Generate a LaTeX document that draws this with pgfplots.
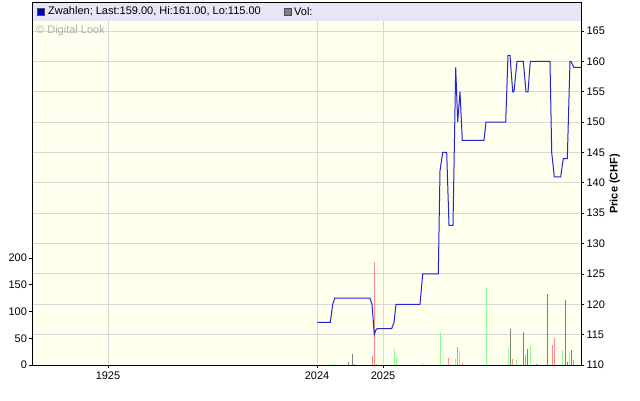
\documentclass[border=0pt]{standalone}
\usepackage{fontspec}
\setmainfont{Liberation Sans}
\usepackage{pgfplots}
\pgfplotsset{compat=1.18}
\definecolor{bgc}{RGB}{255,255,238}
\definecolor{legc}{RGB}{230,230,246}
\definecolor{gridc}{RGB}{216,216,216}
\definecolor{linec}{RGB}{35,35,215}
\definecolor{volg}{RGB}{140,255,140}
\definecolor{volr}{RGB}{255,140,140}
\definecolor{volk}{RGB}{128,128,128}
\definecolor{wm}{RGB}{175,175,175}
\begin{document}
\begin{tikzpicture}
\path[use as bounding box, fill=white] (0pt,0pt) rectangle (640pt,401pt);
\pgfplotsset{every axis/.append style={scale only axis, width=548.5pt, height=362.5pt,
  at={(32.5pt,36pt)}, anchor=south west, xmin=32.5, xmax=581,
  font=\fontsize{11}{13}\selectfont, /pgf/number format/assume math mode=true,
  tick align=outside, major tick length=3pt, tick style={black, line width=0.8pt}}}
% axis 1: price frame, grid, background
\begin{axis}[ymin=110, ymax=169.7,
  axis background/.style={fill=bgc},
  axis line style={black, line width=0.8pt},
  xtick={108,317,383}, xticklabels={1925,2024,2025}, xtick pos=lower,
  ytick={110,115,...,165}, ytick pos=right, yticklabel pos=right,
  yticklabel style={xshift=-1pt},
  grid=major, major grid style={gridc, line width=0.9pt},
  ylabel={\bfseries Price (CHF)}, ylabel style={yshift=2pt}]
\addplot[draw=none] coordinates {(100,120)};
\end{axis}
% axis 2: volume
\begin{axis}[ymin=0, ymax=677.6, axis x line=none, axis y line*=left,
  axis line style={black, line width=0.8pt},
  ytick={0,50,...,200}, yticklabel style={xshift=1pt}]
\addplot[ycomb, volg, line width=1pt] coordinates {
(332.7,2) (334,2) (376,2) (394.3,30) (396.3,14) (422.7,4) (440.3,62) (442.3,2)
(455.3,11) (459.3,26) (486.3,144) (508.3,32) (516.3,9) (530.3,35) (562.3,28) (569.3,24)};
\addplot[ycomb, volk, line width=1pt] coordinates {
(348.3,5) (352.3,20) (354.3,2) (510.3,67) (523.3,62) (527.3,30) (536.3,2)
(547.3,133) (565.3,121) (567.3,5) (571.3,28)};
\addplot[ycomb, volr, line width=1pt] coordinates {
(372.3,17) (374.3,193) (448.3,13) (457.3,34) (462.3,3) (512.3,11) (525.3,19)
(552.3,37) (554.3,50) (573.3,9)};
\end{axis}
% axis 3: price line, legend band
\begin{axis}[ymin=110, ymax=169.7, hide axis, clip=false]
\addplot[linec, line width=1pt] coordinates {
(317.3,117) (330.3,117) (332.7,120) (334.7,121) (370,121) (372,120) (374.3,115)
(376,115.8) (377.3,116) (391.7,116) (394,117) (396,120) (420,120) (422.7,125)
(438.3,125) (440,142) (442.7,145) (446.7,145) (449,133) (453,133) (455.7,159)
(457.7,150) (460,155) (462.3,147) (484,147) (486,150) (505.7,150) (508,161)
(510,161) (512.7,155) (514,155) (517,160) (523.3,160) (526,155) (528,155)
(530.3,160) (550,160) (551.7,145) (554.3,141) (560.7,141) (563.3,144)
(567.3,144) (570,160) (571,160) (574,159) (581,159)};
\fill[legc] (rel axis cs:0,0.9503) rectangle (rel axis cs:1,1);
\draw[black, line width=0.8pt] (rel axis cs:0,0) rectangle (rel axis cs:1,1);
\node[anchor=west, text=wm, inner sep=0pt] at (axis cs:36,165) {\textcopyright\ Digital Look};
\node[anchor=west, fill=blue!80!black, draw=black!70, line width=0.5pt, minimum size=7pt, inner sep=0pt] at (axis cs:37,168.2) {};
\node[anchor=west, inner sep=0pt] at (axis cs:48,168.2) {Zwahlen; Last:159.00, Hi:161.00, Lo:115.00};
\node[anchor=west, fill=volk, draw=black!70, line width=0.5pt, minimum size=7pt, inner sep=0pt] at (axis cs:284,168.2) {};
\node[anchor=west, inner sep=0pt] at (axis cs:294,168.2) {Vol:};
\end{axis}
\end{tikzpicture}
\end{document}
